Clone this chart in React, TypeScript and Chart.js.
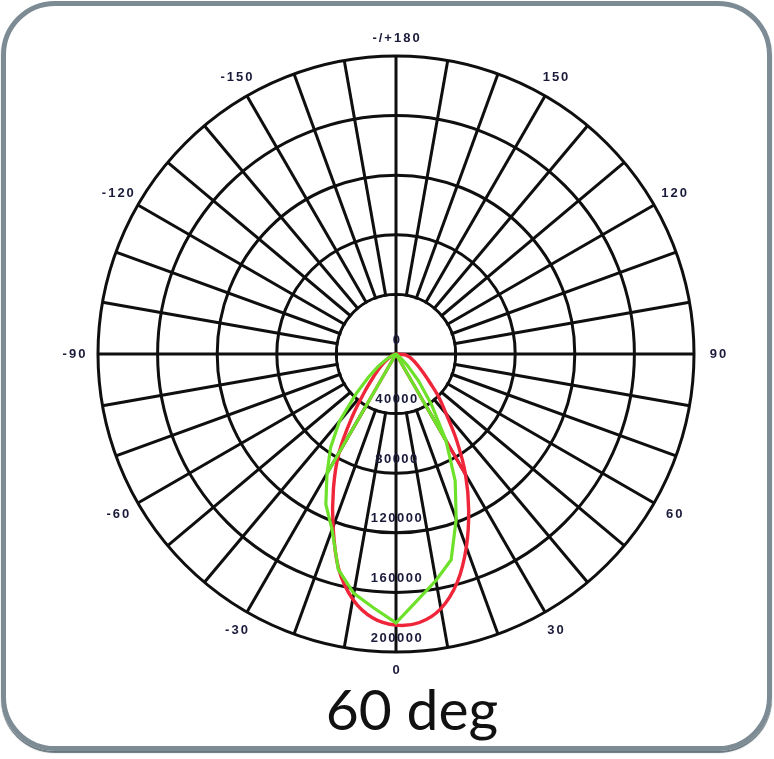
import React, { useEffect, useRef } from "react";
import { Chart, registerables } from "chart.js";

Chart.register(...registerables);

// Angles (degrees) in the order the radial scale places them: 0 at the bottom,
// negative angles to the left, positive angles to the right.
const angles = [
  0, -5, -10, -15, -20, -25, -30, -35, -40, -45, -50, -55, -60, -65, -70, -75, -80, -85,
  -90, -95, -100, -105, -110, -115, -120, -125, -130, -135, -140, -145, -150, -155, -160, -165, -170, -175,
  180, 175, 170, 165, 160, 155, 150, 145, 140, 135, 130, 125, 120, 115, 110, 105, 100, 95,
  90, 85, 80, 75, 70, 65, 60, 55, 50, 45, 40, 35, 30, 25, 20, 15, 10, 5,
];

// Red curve (same order as angles)
const redValues = [
  182000, 177900, 167100, 149000, 123500, 99300, 76500, 51000, 32200, 20800, 14100, 9400, 6000, 4000, 2000, 1000, 0, 0,
  0, 0, 0, 0, 0, 0, 0, 0, 0, 0, 0, 0, 0, 0, 0, 0, 0, 0,
  0, 0, 0, 0, 0, 0, 0, 0, 0, 0, 0, 0, 0, 0, 0, 0, 0, 0,
  0, 6000, 8000, 10100, 12100, 14800, 18100, 22800, 29500, 40300, 52300, 71100, 93300, 115400, 138000, 158700, 173500, 180900,
];

// Green curve (same order as angles)
const greenValues = [
  180500, 171100, 163100, 149700, 125500, 111400, 92600, 76500, 59100, 38300, 24200, 14800, 8100, 4000, 1300, 0, 0, 0,
  0, 0, 0, 0, 0, 0, 0, 0, 0, 0, 0, 0, 0, 0, 0, 0, 0, 0,
  0, 0, 0, 0, 0, 0, 0, 0, 0, 0, 0, 0, 0, 0, 0, 0, 0, 0,
  0, 0, 0, 0, 0, 0, 0, 0, 4000, 10700, 23500, 41600, 67100, 94000, 118100, 143000, 154400, 165800,
];

// Short straight strokes from the centre out to the +/-30 degree points
const redSpokeAngles = [-35, -30, 30, 35];
const redSpokeValues = [0, 76500, 93300, 0];
const greenSpokeAngles = [-35, -30, 30, 35];
const greenSpokeValues = [0, 92600, 67100, 0];

// Radial ticks
const radialTicks = [0, 40000, 80000, 120000, 160000, 200000];
const radialMax = 200000;
const radialStep = 40000;
const innerRingValue = 40000;

// Angle labels
const angleLabelAngles = [0, -30, -60, -90, -120, -150, 180, 150, 120, 90, 60, 30];
const angleLabelTexts = ["0", "-30", "-60", "-90", "-120", "-150", "-/+180", "150", "120", "90", "60", "30"];
const throughAngles = [0, 90, 180, -90];

const title = "60 deg";

const GRID = "#0f0f0f";
const GRID_W = 3;
const LABEL = "#1a1a3a";
const RED = "#ef2639";
const GREEN = "#6ee22a";

function sparse(keys: number[], vals: number[]) {
  return angles.map((a) => {
    const k = keys.indexOf(a);
    return k >= 0 ? vals[k] : null;
  });
}

const overlay = {
  id: "overlay",
  beforeDatasetsDraw(chart: any) {
    const s = chart.scales.r;
    const ctx = chart.ctx as CanvasRenderingContext2D;
    const cx = s.xCenter;
    const cy = s.yCenter;
    const r0 = s.getDistanceFromCenterForValue(innerRingValue);
    ctx.save();
    ctx.fillStyle = "#ffffff";
    ctx.beginPath();
    ctx.arc(cx, cy, r0 - GRID_W / 2, 0, Math.PI * 2);
    ctx.fill();
    ctx.strokeStyle = GRID;
    ctx.lineWidth = GRID_W;
    ctx.beginPath();
    throughAngles.forEach((a) => {
      const p = s.getPointPosition(angles.indexOf(a), r0);
      ctx.moveTo(cx, cy);
      ctx.lineTo(p.x, p.y);
    });
    ctx.stroke();
    ctx.restore();
  },
  afterDatasetsDraw(chart: any) {
    const s = chart.scales.r;
    const ctx = chart.ctx as CanvasRenderingContext2D;
    const cx = s.xCenter;
    const cy = s.yCenter;
    ctx.save();
    ctx.fillStyle = LABEL;
    ctx.textAlign = "center";
    ctx.textBaseline = "middle";
    ctx.font = "bold 13px 'Liberation Sans', Arial, sans-serif";
    (ctx as any).letterSpacing = "1.5px";
    radialTicks.forEach((v) => {
      const d = s.getDistanceFromCenterForValue(v);
      ctx.fillText(String(v), cx + 1, cy + d - 14);
    });
    (ctx as any).letterSpacing = "2px";
    angleLabelAngles.forEach((a, i) => {
      const rad = (a * Math.PI) / 180;
      const dist = s.drawingArea + 18 + 6 * Math.abs(Math.sin(rad));
      const p = s.getPointPosition(angles.indexOf(a), dist);
      ctx.fillText(angleLabelTexts[i], p.x + 1, p.y);
    });
    ctx.restore();
  },
};

export default function App() {
  const ref = useRef<HTMLCanvasElement>(null);

  useEffect(() => {
    const chart = new Chart(ref.current as HTMLCanvasElement, {
      type: "radar",
      data: {
        labels: angles.map(String),
        datasets: [
          {
            label: "green spokes",
            data: sparse(greenSpokeAngles, greenSpokeValues) as any,
            borderColor: GREEN,
            borderWidth: 3.2,
            pointRadius: 0,
            fill: false,
            tension: 0,
            spanGaps: false,
          },
          {
            label: "green",
            data: greenValues,
            borderColor: GREEN,
            borderWidth: 3.2,
            pointRadius: 0,
            fill: false,
            tension: 0,
          },
          {
            label: "red spokes",
            data: sparse(redSpokeAngles, redSpokeValues) as any,
            borderColor: RED,
            borderWidth: 3.2,
            pointRadius: 0,
            fill: false,
            tension: 0,
            spanGaps: false,
          },
          {
            label: "red",
            data: redValues,
            borderColor: RED,
            borderWidth: 3.4,
            pointRadius: 0,
            fill: false,
            tension: 0.35,
          },
        ],
      },
      options: {
        responsive: false,
        animation: false,
        events: [],
        layout: { padding: { left: 98, right: 80, top: 56, bottom: 107 } },
        plugins: { legend: { display: false }, title: { display: false }, tooltip: { enabled: false } },
        scales: {
          r: {
            min: 0,
            max: radialMax,
            startAngle: 180,
            ticks: { display: false, stepSize: radialStep },
            pointLabels: { display: false },
            grid: { circular: true, color: GRID, lineWidth: GRID_W },
            angleLines: {
              display: true,
              lineWidth: GRID_W,
              color: (c: any) => (c.index % 2 === 0 ? GRID : "rgba(0,0,0,0)"),
            },
          },
        },
      },
      plugins: [overlay],
    });
    return () => chart.destroy();
  }, []);

  return (
    <div
      style={{
        position: "absolute",
        left: 0,
        top: 0,
        width: 774,
        height: 759,
        background: "#ffffff",
        overflow: "hidden",
      }}
    >
      <div
        style={{
          position: "absolute",
          left: 1,
          top: 1,
          width: 771,
          height: 750,
          boxSizing: "border-box",
          border: "5px solid #7d8b94",
          borderRadius: 54,
          boxShadow: "0 2px 1px #66747c",
        }}
      />
      <canvas ref={ref} width={774} height={759} style={{ position: "absolute", left: 0, top: 0 }} />
      <div
        style={{
          position: "absolute",
          left: 212,
          top: 680,
          width: 400,
          textAlign: "center",
          font: "57px/57px Lato, 'Open Sans', sans-serif",
          color: "#111111",
        }}
      >
        {title}
      </div>
    </div>
  );
}
